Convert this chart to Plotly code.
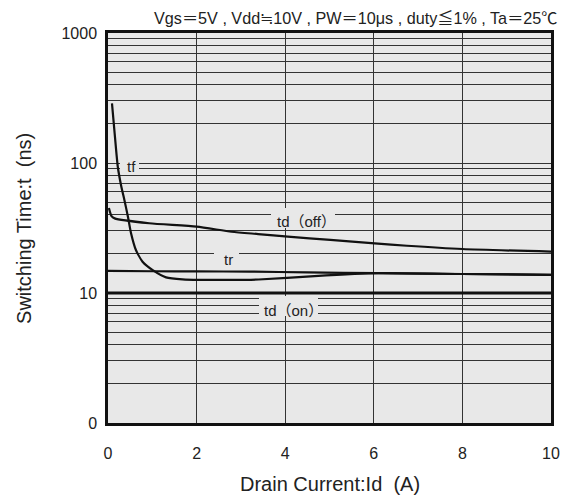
import math
import plotly.graph_objects as go

# ---- data ----
id_tf = [0.09, 0.15, 0.22, 0.30, 0.37, 0.45, 0.52, 0.63, 0.78, 1.01, 1.31, 1.68, 2.8, 3.4, 4.66, 6.1, 8.0, 10.0]
t_tf = [288, 169, 94, 66, 52, 38.6, 28.8, 21.4, 17.4, 15.0, 13.2, 12.75, 12.6, 12.7, 13.5, 14.2, 14.0, 13.8]

id_tr = [0.0, 1.0, 2.0, 3.2, 4.5, 6.1, 8.0, 10.0]
t_tr = [14.8, 14.7, 14.65, 14.6, 14.4, 14.2, 14.0, 13.8]

id_tdoff = [0.02, 0.08, 0.15, 0.93, 2.0, 2.79, 3.39, 4.06, 5.02, 6.02, 6.75, 8.0, 10.0]
t_tdoff = [45, 39, 37.5, 34.4, 32.4, 29.6, 28.4, 27.1, 25.6, 24.1, 23.1, 21.8, 20.8]

id_tdon = [0.0, 10.0]
t_tdon = [10, 10]

x_ticks = [0, 2, 4, 6, 8, 10]
y_decades = [1, 10, 100, 1000]
y_decade_labels = ["0", "10", "100", "1000"]

series_names = ["tf", "tr", "td（off）", "td（on）"]
conditions = "Vgs＝5V , Vdd≒10V , PW＝10μs , duty≦1% , Ta＝25℃"
x_title = "Drain Current:Id  (A)"
y_title = "Switching Time:t  (ns)"

# ---- figure ----
LINE = "#111111"
BG = "#e8e8e8"
GRID = "#333333"
TXT = "#222222"
FONT = "Liberation Sans, Arial, Noto Sans CJK JP, sans-serif"

# page has an 8px body margin; figure coordinates below are page coords - 8
OFF = 8
L, T = 108 - OFF, 33 - OFF
W, H = 572 - OFF, 498 - OFF
PW, PH = 448, 390

fig = go.Figure()
fig.add_trace(go.Scatter(x=id_tdon, y=t_tdon, mode="lines",
                         line=dict(color=LINE, width=2.8)))
fig.add_trace(go.Scatter(x=id_tdoff, y=t_tdoff, mode="lines",
                         line=dict(color=LINE, width=2.2, shape="spline", smoothing=0.6)))
fig.add_trace(go.Scatter(x=id_tr, y=t_tr, mode="lines",
                         line=dict(color=LINE, width=2.2, shape="spline", smoothing=0.6)))
fig.add_trace(go.Scatter(x=id_tf, y=t_tf, mode="lines",
                         line=dict(color=LINE, width=2.2, shape="spline", smoothing=0.5)))

# gridlines at every 1..9 x decade
y_vals, y_text = [], []
for d, lab in zip(y_decades[:-1], y_decade_labels[:-1]):
    for m in range(1, 10):
        y_vals.append(d * m)
        y_text.append(lab if m == 1 else "")
y_vals.append(y_decades[-1])
y_text.append(y_decade_labels[-1])

fig.update_layout(
    width=W, height=H,
    margin=dict(l=L, r=W - L - PW, t=T, b=H - T - PH),
    paper_bgcolor="white", plot_bgcolor=BG,
    showlegend=False,
    font=dict(family=FONT, size=16, color=TXT),
    xaxis=dict(range=[0, 10], tickvals=x_ticks, ticktext=[str(v) for v in x_ticks],
               showgrid=True, gridcolor=GRID, gridwidth=1.4,
               showline=True, mirror=True, linecolor=LINE, linewidth=2.5,
               ticks="", ticklabelstandoff=14, zeroline=False,
               tickfont=dict(size=16, color=TXT)),
    yaxis=dict(type="log", range=[0, 3], tickvals=y_vals, ticktext=y_text,
               showgrid=True, gridcolor=GRID, gridwidth=1.4,
               showline=True, mirror=True, linecolor=LINE, linewidth=2.5,
               ticks="", ticklabelstandoff=5, zeroline=False,
               tickfont=dict(size=16, color=TXT)),
)

ax0 = 108.3
ppu = 44.72


def xd(px):
    return (px - ax0) / ppu


def yl(py):
    return 3 - (py - 33) / 130.0


# label background boxes (hide gridlines behind labels), page pixel centres
boxes = [
    (129.5, 166.5, 19, 13),
    (227.5, 259, 25, 20),
    (305, 218, 64, 20),
    (290.5, 306, 59, 20),
]
for cx, cy, w, h in boxes:
    fig.add_annotation(x=xd(cx), y=yl(cy), xref="x", yref="y", text=" ",
                       showarrow=False, width=w, height=h, bgcolor=BG,
                       borderpad=0, borderwidth=0, font=dict(size=8))

# label texts, same order as series_names
label_pos = [(132, 166), (230, 259), (309, 221), (296, 310)]
for name, (px, py) in zip(series_names, label_pos):
    fig.add_annotation(x=xd(px), y=yl(py), xref="x", yref="y", text=name,
                       showarrow=False, font=dict(size=15, color=TXT))

fig.add_annotation(x=1.0, y=1.0, xref="paper", yref="paper", text=conditions,
                   showarrow=False, xanchor="right", yanchor="bottom", yshift=4, xshift=9,
                   font=dict(size=16.2, color=TXT))
fig.add_annotation(x=0.5, y=(423 - 484) / PH, xref="paper", yref="paper", text=x_title,
                   showarrow=False, xanchor="center", yanchor="middle",
                   font=dict(size=20, color=TXT))
fig.add_annotation(x=(23 - 108) / PW, y=0.5, xref="paper", yref="paper", text=y_title,
                   showarrow=False, xanchor="center", yanchor="middle", textangle=-90,
                   font=dict(size=20, color=TXT))

fig.write_html("out.html")
